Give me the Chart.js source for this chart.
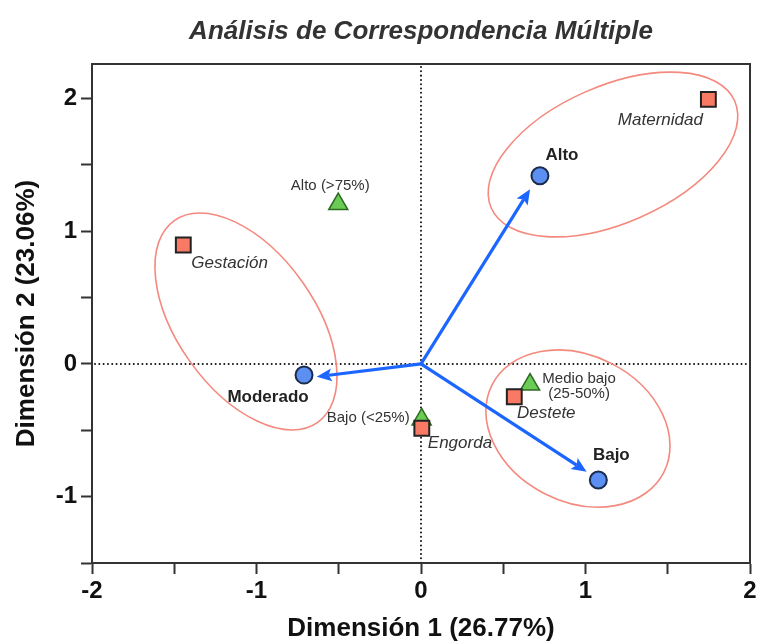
<!DOCTYPE html>
<html>
<head>
<meta charset="utf-8">
<script src="https://cdn.jsdelivr.net/npm/chart.js@4.4.0/dist/chart.umd.min.js"></script>
<style>
html,body{margin:0;padding:0;background:#fff;}
#wrap{width:759px;height:644px;}
</style>
</head>
<body>
<div id="wrap"><canvas id="c" width="759" height="644"></canvas></div>
<script>
const FONT = '"Liberation Sans", Arial, Helvetica, sans-serif';

const chartTitle = 'Análisis de Correspondencia Múltiple';
const xAxisTitle = 'Dimensión 1 (26.77%)';
const yAxisTitle = 'Dimensión 2 (23.06%)';
const xTickValues = [-2, -1.5, -1, -0.5, 0, 0.5, 1, 1.5, 2];
const yTickValues = [-1.5, -1, -0.5, 0, 0.5, 1, 1.5, 2];
const xRange = [-2, 2];
const yRange = [-1.5, 2.26];

// Nivel (círculos)
const nivelLabels = ['Alto', 'Moderado', 'Bajo'];
const nivelX = [0.723, -0.711, 1.078];
const nivelY = [1.418, -0.084, -0.875];

// Área (cuadrados)
const areaLabels = ['Maternidad', 'Gestación', 'Destete', 'Engorda'];
const areaX = [1.747, -1.445, 0.567, 0.005];
const areaY = [1.994, 0.896, -0.247, -0.485];

// Porcentaje (triángulos)
const pctLabels = ['Alto (>75%)', 'Medio bajo\n(25-50%)', 'Bajo (<25%)'];
const pctX = [-0.503, 0.663, 0.004];
const pctY = [1.205, -0.155, -0.418];

// Flechas desde el origen
const arrowOrigin = [0, 0];
const arrowTipX = [0.663, -0.634, 1.007];
const arrowTipY = [1.316, -0.096, -0.812];

// Elipses: centro y semiejes (vectores, en unidades de datos)
const ellipseCX = [1.167, -1.064, 0.954];
const ellipseCY = [1.578, 0.320, -0.487];
const ellipseAX = [0.740, 0.436, 0.522];
const ellipseAY = [0.403, -0.760, -0.330];
const ellipseBX = [0.167, -0.341, -0.202];
const ellipseBY = [-0.472, -0.301, -0.491];

// label placement (pixel offsets from marker, baseline)
const nivelLabelPos = [[22, -16, 'center'], [-36, 27, 'center'], [13, -20, 'center']];
const areaLabelPos = [[-48, 26, 'center'], [8, 23, 'left'], [32, 21, 'center'], [6, 20, 'left']];
const pctLabelPos = [[-8, -14, 'center'], [49, -2, 'center'], [-12, 3, 'right']];

const decor = {
  id: 'decor',
  beforeDatasetsDraw(chart) {
    const {ctx, chartArea: a, scales: {x, y}} = chart;
    ctx.save();
    // dotted zero lines
    const x0 = x.getPixelForValue(0), y0 = y.getPixelForValue(0);
    ctx.strokeStyle = '#111';
    ctx.lineWidth = 2;
    ctx.lineCap = 'round';
    ctx.setLineDash([0.01, 4.3]);
    ctx.beginPath();
    ctx.moveTo(x0, a.top + 3); ctx.lineTo(x0, a.bottom);
    ctx.moveTo(a.left + 3, y0); ctx.lineTo(a.right, y0);
    ctx.stroke();
    ctx.setLineDash([]);
    ctx.lineCap = 'butt';
    // ellipses
    ctx.strokeStyle = '#f4897e';
    ctx.lineWidth = 1.6;
    for (let i = 0; i < ellipseCX.length; i++) {
      const cx = x.getPixelForValue(ellipseCX[i]);
      const cy = y.getPixelForValue(ellipseCY[i]);
      const ax = x.getPixelForValue(ellipseCX[i] + ellipseAX[i]) - cx;
      const ay = y.getPixelForValue(ellipseCY[i] + ellipseAY[i]) - cy;
      const bx = x.getPixelForValue(ellipseCX[i] + ellipseBX[i]) - cx;
      const by = y.getPixelForValue(ellipseCY[i] + ellipseBY[i]) - cy;
      ctx.save();
      ctx.transform(ax, ay, bx, by, cx, cy);
      ctx.beginPath();
      ctx.arc(0, 0, 1, 0, Math.PI * 2);
      ctx.restore();
      ctx.stroke();
    }
    // arrows
    const ox = x.getPixelForValue(arrowOrigin[0]);
    const oy = y.getPixelForValue(arrowOrigin[1]);
    ctx.strokeStyle = '#1c66ff';
    ctx.fillStyle = '#1c66ff';
    ctx.lineWidth = 3.2;
    for (let i = 0; i < arrowTipX.length; i++) {
      const tx = x.getPixelForValue(arrowTipX[i]);
      const ty = y.getPixelForValue(arrowTipY[i]);
      const ang = Math.atan2(ty - oy, tx - ox);
      const c = Math.cos(ang), s = Math.sin(ang);
      const hl = 15, hw = 6.5;
      const bx = tx - c * hl, by = ty - s * hl;
      ctx.beginPath();
      ctx.moveTo(ox, oy);
      ctx.lineTo(bx + c * 3, by + s * 3);
      ctx.stroke();
      ctx.beginPath();
      ctx.moveTo(tx, ty);
      ctx.lineTo(bx - s * hw, by + c * hw);
      ctx.lineTo(bx + c * 3, by + s * 3);
      ctx.lineTo(bx + s * hw, by - c * hw);
      ctx.closePath();
      ctx.fill();
    }
    ctx.restore();
  },
  afterDatasetsDraw(chart) {
    const {ctx, scales: {x, y}} = chart;
    ctx.save();
    ctx.textBaseline = 'alphabetic';
    const put = (txt, px, py, pos, font, color, lh) => {
      ctx.font = font;
      ctx.fillStyle = color;
      ctx.textAlign = pos[2];
      txt.split('\n').forEach((line, k) => ctx.fillText(line, px + pos[0], py + pos[1] + k * lh));
    };
    nivelLabels.forEach((t, i) => put(t, x.getPixelForValue(nivelX[i]), y.getPixelForValue(nivelY[i]), nivelLabelPos[i], 'bold 17px ' + FONT, '#222', 0));
    areaLabels.forEach((t, i) => put(t, x.getPixelForValue(areaX[i]), y.getPixelForValue(areaY[i]), areaLabelPos[i], 'italic 17px ' + FONT, '#333', 0));
    pctLabels.forEach((t, i) => put(t, x.getPixelForValue(pctX[i]), y.getPixelForValue(pctY[i]), pctLabelPos[i], '15px ' + FONT, '#333', 15.5));
    ctx.restore();
  },
  afterDraw(chart) {
    const {ctx, chartArea: a} = chart;
    ctx.save();
    ctx.strokeStyle = '#333';
    ctx.lineWidth = 2;
    ctx.strokeRect(a.left, a.top, a.right - a.left, a.bottom - a.top);
    ctx.fillStyle = '#333';
    ctx.font = 'italic bold 26px ' + FONT;
    ctx.textAlign = 'center';
    ctx.textBaseline = 'alphabetic';
    ctx.fillText(chartTitle, (a.left + a.right) / 2, 39);
    ctx.restore();
  }
};

const pts = (xs, ys) => xs.map((v, i) => ({x: v, y: ys[i]}));

new Chart(document.getElementById('c'), {
  type: 'scatter',
  data: {
    datasets: [
      {label: 'Nivel', data: pts(nivelX, nivelY), pointStyle: 'circle', pointRadius: 8.5,
       pointBackgroundColor: '#5b8ff2', pointBorderColor: '#1b2b4b', pointBorderWidth: 2},
      {label: 'Área', data: pts(areaX, areaY), pointStyle: 'rect', pointRadius: 10.5,
       pointBackgroundColor: '#f87a64', pointBorderColor: '#222', pointBorderWidth: 2},
      {label: 'Porcentaje', data: pts(pctX, pctY), pointStyle: 'triangle', pointRadius: 11,
       pointBackgroundColor: '#6acb55', pointBorderColor: '#2c6b22', pointBorderWidth: 1.5}
    ]
  },
  options: {
    responsive: false,
    animation: false,
    layout: {autoPadding: false, padding: {top: 64, right: 9, bottom: 0, left: 0}},
    plugins: {legend: {display: false}, tooltip: {enabled: false}, title: {display: false}},
    scales: {
      x: {
        type: 'linear', min: xRange[0], max: xRange[1],
        afterBuildTicks: s => { s.ticks = xTickValues.map(v => ({value: v})); },
        afterFit: s => { s.height = 81; s.paddingLeft = 0; s.paddingRight = 0; },
        ticks: {autoSkip: false, maxRotation: 0, padding: 3, color: '#111',
                font: {family: FONT, size: 24, weight: 'bold'},
                callback: v => Number.isInteger(v) ? String(v) : ''},
        grid: {drawOnChartArea: false, drawTicks: true, tickLength: 11, tickWidth: 2, tickColor: '#333', color: '#333'},
        border: {display: true, color: '#333', width: 2},
        title: {display: true, text: xAxisTitle, color: '#111',
                font: {family: FONT, size: 26, weight: 'bold'}, padding: {top: 0, bottom: 0}}
      },
      y: {
        type: 'linear', min: yRange[0], max: yRange[1],
        afterBuildTicks: s => { s.ticks = yTickValues.map(v => ({value: v})); },
        afterFit: s => { s.width = 92; s.paddingTop = 0; s.paddingBottom = 0; },
        ticks: {autoSkip: false, padding: 4, color: '#111',
                font: {family: FONT, size: 24, weight: 'bold'},
                callback: v => Number.isInteger(v) ? String(v) : ''},
        grid: {drawOnChartArea: false, drawTicks: true, tickLength: 11, tickWidth: 2, tickColor: '#333', color: '#333'},
        border: {display: true, color: '#333', width: 2},
        title: {display: true, text: yAxisTitle, color: '#111',
                font: {family: FONT, size: 26, weight: 'bold'}, padding: {top: 11, bottom: 0}}
      }
    }
  },
  plugins: [decor]
});
</script>
</body>
</html>
